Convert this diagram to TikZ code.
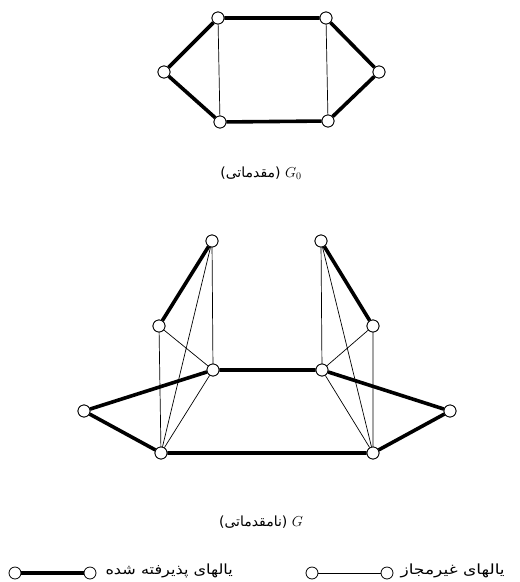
\documentclass[tikz,border=0pt]{standalone}
\usepackage{fontspec}
\usepackage{tikz}
\usetikzlibrary{positioning}
\newfontfamily\arabicfont[Script=Arabic]{DejaVu Sans}
\TeXXeTstate=1

\begin{document}
\begin{tikzpicture}[
  x=1pt, y=-1pt,
  vtx/.style={draw, circle, fill=white, line width=0.8pt, minimum size=12pt, inner sep=0pt},
  accepted/.style={line width=3.6pt},
  forbidden/.style={line width=0.7pt},
  lbl/.style={font=\fontsize{14}{16}\selectfont}
]
  \useasboundingbox (0,0) rectangle (520,582);

  % preliminary graph G_0
  \node[vtx] (t1) at (218,18) {};
  \node[vtx] (t2) at (326,18) {};
  \node[vtx] (t3) at (164,72) {};
  \node[vtx] (t4) at (379,72) {};
  \node[vtx] (t5) at (220,122) {};
  \node[vtx] (t6) at (328,121) {};
  \draw[forbidden] (t1) -- (t5) (t2) -- (t6);
  \draw[accepted] (t1) -- (t2) (t1) -- (t3) (t3) -- (t5) (t5) -- (t6) (t2) -- (t4) (t4) -- (t6);
  \foreach \v in {t1,t2,t3,t4,t5,t6} \node[vtx] at (\v) {};

  \node[lbl] (cap0) at (261,173) {\arabicfont\beginR(مقدماتی)\endR\ $G_0$};

  % non-preliminary graph G
  \node[vtx] (aL) at (212,241) {};
  \node[vtx] (aR) at (321,241) {};
  \node[vtx] (mL) at (159,326) {};
  \node[vtx] (mR) at (373,326) {};
  \node[vtx] (iL) at (213,370) {};
  \node[vtx] (iR) at (322,370) {};
  \node[vtx] (fL) at (84,411) {};
  \node[vtx] (fR) at (450,411) {};
  \node[vtx] (bL) at (161,453) {};
  \node[vtx] (bR) at (373,453) {};
  \draw[forbidden] (aL) -- (iL) (aL) -- (bL) (mL) -- (iL) (mL) -- (bL) (iL) -- (bL);
  \draw[forbidden] (aR) -- (iR) (aR) -- (bR) (mR) -- (iR) (mR) -- (bR) (iR) -- (bR);
  \draw[accepted] (aL) -- (mL) (aR) -- (mR) (iL) -- (iR) (iL) -- (fL) (fL) -- (bL)
    (bL) -- (bR) (iR) -- (fR) (fR) -- (bR);
  \foreach \v in {aL,aR,mL,mR,iL,iR,fL,fR,bL,bR} \node[vtx] at (\v) {};

  \node[lbl] (cap1) at (261,522) {\arabicfont\beginR(نامقدماتی)\endR\ $G$};

  % legend
  \node[vtx] (k1) at (15,573) {};
  \node[vtx] (k2) at (90,573) {};
  \draw[accepted] (k1) -- (k2);
  \node[lbl, anchor=west] (txt1) at (102,571) {\scalebox{1.15}[1]{\arabicfont\beginR یالهای پذیرفته شده\endR}};
  \node[vtx] (k3) at (312,573) {};
  \node[vtx] (k4) at (387,573) {};
  \draw[forbidden] (k3) -- (k4);
  \node[lbl, anchor=west] (txt2) at (397,571) {\scalebox{1.22}[1]{\arabicfont\beginR یالهای غیرمجاز\endR}};
\end{tikzpicture}
\end{document}
